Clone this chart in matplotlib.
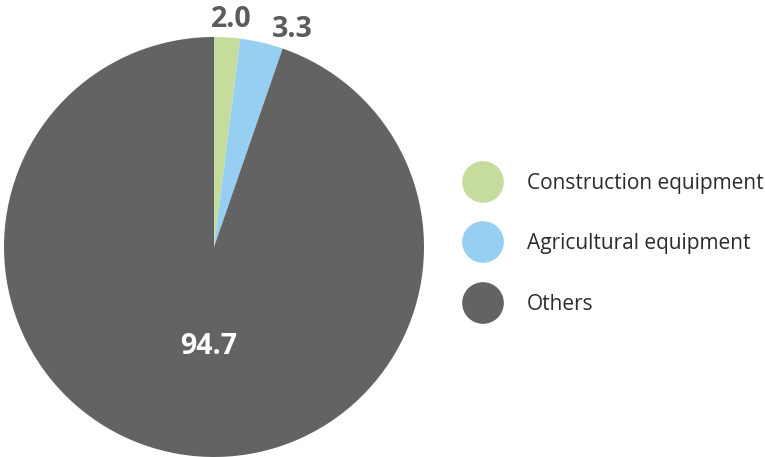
import numpy as np
import matplotlib
matplotlib.use('Agg')
from matplotlib import pyplot as plt

categories=['Construction equipment','Agricultural equipment','Others']
values=[2.0,3.3,94.7]
value_labels=['2.0','3.3','94.7']
colors=['#c6dc9d','#97cff3','#636363']

plt.rcParams['font.family']=['Open Sans','DejaVu Sans']

fig=plt.figure(figsize=(7.65,4.57),dpi=100)
ax=fig.add_axes([4/765,0,420/765,420/457])
wedges,_=ax.pie(values,colors=colors,startangle=90,counterclock=False,radius=1,
                wedgeprops=dict(linewidth=0))
ax.set_xlim(-1,1)
ax.set_ylim(-1,1)
ax.set_aspect('equal')
ax.axis('off')

# value labels (baseline positions)
label_pos=[(0.081,1.048),(0.374,1.0),(-0.024,-0.51)]
label_col=['#5b5b5b','#5b5b5b','white']
for t,(x,y),c in zip(value_labels,label_pos,label_col):
    ax.text(x,y,t,ha='center',va='baseline',fontsize=20.5,fontweight='bold',color=c,clip_on=False)

# legend drawn in pixel coords
lax=fig.add_axes([0,0,1,1])
lax.set_xlim(0,765)
lax.set_ylim(457,0)
lax.axis('off')
ys=[182,242,303]
lax.scatter([483]*3,ys,s=30**2,c=colors,linewidths=0)
for cat,y in zip(categories,ys):
    lax.text(527,y+2,cat,ha='left',va='center',fontsize=15,color='#2b2b2b')

fig.savefig('out.png',dpi=100)
